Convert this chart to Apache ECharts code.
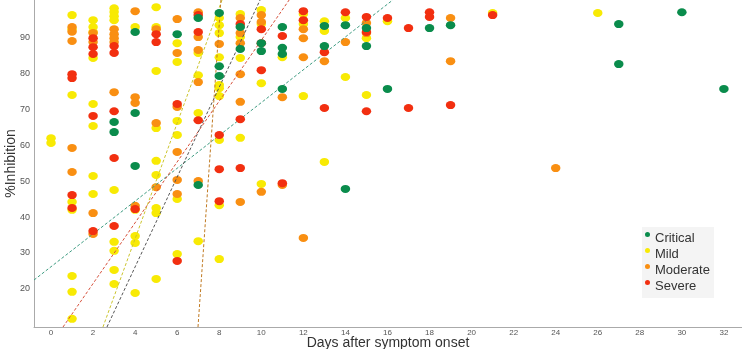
<!DOCTYPE html>
<html>
<head>
<meta charset="utf-8">
<script src="https://cdn.jsdelivr.net/npm/echarts@6/dist/echarts.min.js"></script>
<style>
  html, body { margin: 0; padding: 0; background: #fff; }
  #chart { width: 742px; height: 349px; }
</style>
</head>
<body>
<div id="chart"></div>
<script>
// [day, %inhibition]
var critical = [
  [3, 66.4], [3, 63.6], [4, 91.4], [4, 68.9], [4, 54.2], [6, 90.8], [7, 95.3], [7, 48.9],
  [8, 96.7], [8, 81.9], [8, 79.2], [9, 92.8], [9, 86.7], [10, 88.3], [10, 86.1],
  [11, 92.8], [11, 87.0], [11, 85.3], [11, 75.6], [13, 93.1], [13, 87.5], [14, 93.3], [14, 47.8],
  [15, 92.5], [15, 87.5], [16, 75.6], [18, 92.5], [19, 93.3], [27, 93.6], [27, 82.5], [30, 96.9], [32, 75.6]
];
var mild = [
  [0, 61.9], [0, 60.6],
  [1, 96.1], [1, 92.2], [1, 73.9], [1, 44.2], [1, 42.0], [1, 23.6], [1, 19.2], [1, 11.7],
  [2, 94.7], [2, 92.8], [2, 91.4], [2, 84.2], [2, 71.4], [2, 65.3], [2, 51.4], [2, 46.4],
  [3, 98.0], [3, 97.0], [3, 95.8], [3, 94.7], [3, 47.5], [3, 33.1], [3, 30.6], [3, 25.3], [3, 21.4],
  [4, 92.8], [4, 42.0], [4, 34.7], [4, 32.8], [4, 18.9],
  [5, 98.3], [5, 92.8], [5, 80.6], [5, 64.7], [5, 55.6], [5, 51.7], [5, 42.5], [5, 41.1], [5, 22.8],
  [6, 88.3], [6, 83.1], [6, 66.7], [6, 62.8], [6, 45.0], [6, 29.7],
  [7, 85.6], [7, 79.4], [7, 68.9], [7, 33.3],
  [8, 95.3], [8, 93.3], [8, 91.1], [8, 84.4], [8, 76.7], [8, 75.8], [8, 73.6], [8, 61.4], [8, 43.3], [8, 28.3],
  [9, 96.4], [9, 90.0], [9, 84.2], [9, 62.0],
  [10, 97.5], [10, 93.6], [10, 77.2], [10, 49.2],
  [11, 84.4], [12, 96.4], [12, 93.6], [12, 73.6], [13, 94.4], [13, 91.7], [13, 55.3],
  [14, 95.3], [14, 78.9], [15, 89.7], [15, 73.9], [16, 94.4], [21, 96.7], [26, 96.7]
];
var moderate = [
  [1, 92.8], [1, 91.5], [1, 88.9], [1, 59.2], [1, 52.5],
  [2, 91.1], [2, 88.6], [2, 41.1], [2, 35.3],
  [3, 92.2], [3, 90.8], [3, 89.7], [3, 88.6], [3, 74.7],
  [4, 97.2], [4, 73.3], [4, 71.7], [4, 43.1],
  [5, 92.2], [5, 66.1], [5, 48.3],
  [6, 95.0], [6, 85.6], [6, 70.6], [6, 58.1], [6, 50.3], [6, 46.4],
  [7, 96.9], [7, 90.0], [7, 86.4], [7, 77.5], [7, 50.0],
  [8, 88.1],
  [9, 95.3], [9, 91.1], [9, 88.3], [9, 79.7], [9, 72.0], [9, 44.2],
  [10, 96.1], [10, 94.2], [10, 47.0],
  [11, 73.3], [11, 48.9],
  [12, 92.2], [12, 89.7], [12, 84.4], [12, 34.2],
  [13, 83.3], [14, 88.6], [15, 93.9], [15, 91.1], [19, 95.3], [19, 83.3], [24, 53.6]
];
var severe = [
  [1, 79.7], [1, 78.6], [1, 46.1], [1, 42.5],
  [2, 89.7], [2, 87.2], [2, 85.3], [2, 68.1], [2, 36.1],
  [3, 87.5], [3, 85.6], [3, 69.4], [3, 56.4], [3, 37.5],
  [4, 42.2], [5, 90.8], [5, 88.6], [6, 71.4], [6, 27.8],
  [7, 96.1], [7, 91.4], [7, 66.9],
  [8, 62.8], [8, 53.3], [8, 44.4],
  [9, 93.6], [9, 67.2], [9, 53.6],
  [10, 92.2], [10, 88.3], [10, 80.8],
  [11, 90.3], [11, 49.4], [12, 97.2], [12, 94.7], [13, 85.8], [13, 70.3],
  [14, 96.9], [15, 95.6], [15, 91.4], [15, 69.4], [16, 95.3], [17, 92.5], [17, 70.3],
  [18, 96.9], [18, 95.6], [19, 71.1], [21, 96.1]
];

// fitted trend lines: [intercept, slope]
var fitCritical = [26.19, 4.56];
var fitSevere = [4.62, 8.45];
var fitMild = [-30.2, 16.05];
var fitAll = [-23.76, 12.48];
var fitModerate = [-573.5, 83.4];

var xTicks = [0, 2, 4, 6, 8, 10, 12, 14, 16, 18, 20, 22, 24, 26, 28, 30, 32];
var yTicks = [20, 30, 40, 50, 60, 70, 80, 90];

var xMin = -0.81, xMax = 32.86, yMin = 9.44, yMax = 100.3;

var chart = echarts.init(document.getElementById('chart'));

function fitLine(fit) {
    // ends of the line where it meets the plot box
    var a = fit[0], b = fit[1];
    var x1 = Math.max(xMin, (yMin - a) / b);
    var x2 = Math.min(xMax, (yMax - a) / b);
    return [[x1, a + b * x1], [x2, a + b * x2]];
}

function dots(name, color, data, z) {
    return {
        name: name,
        type: 'scatter',
        data: data,
        symbol: 'circle',
        symbolSize: [9.5, 8],
        itemStyle: { color: color, opacity: 1 },
        z: z
    };
}

function trend(color, fit) {
    return {
        type: 'line',
        data: fitLine(fit),
        symbol: 'none',
        silent: true,
        lineStyle: { color: color, width: 1, type: [3, 2] },
        z: 5
    };
}

var font = 'Liberation Sans';
// little dot sitting high beside the legend text
var legendDot = 'path://M2.5,0A2.5,2.5,0,1,1,2.5,5A2.5,2.5,0,1,1,2.5,0ZM2.5,13L2.5,13Z';

chart.setOption({
    animation: false,
    textStyle: { fontFamily: font },
    grid: { left: 34, right: 0, top: 0, bottom: 22, outerBoundsMode: 'none' },
    legend: {
        data: ['Critical', 'Mild', 'Moderate', 'Severe'],
        orient: 'vertical',
        left: 642,
        top: 227,
        icon: legendDot,
        itemWidth: 5,
        itemHeight: 13,
        itemGap: 3,
        padding: [5, 4, 5, 3],
        backgroundColor: '#f4f4f4',
        textStyle: { fontSize: 13, color: '#333', fontFamily: font }
    },
    xAxis: {
        type: 'value',
        min: xMin,
        max: xMax,
        name: 'Days after symptom onset',
        nameLocation: 'middle',
        nameGap: 9,
        nameMoveOverlap: false,
        nameTextStyle: { fontSize: 14, color: '#333' },
        splitLine: { show: false },
        axisTick: { show: false },
        axisLine: { show: true, onZero: false, lineStyle: { color: '#aaa' } },
        axisLabel: { customValues: xTicks, fontSize: 8, color: '#555', margin: 2 }
    },
    yAxis: {
        type: 'value',
        min: yMin,
        max: yMax,
        name: '%Inhibition',
        nameLocation: 'middle',
        nameGap: 16,
        nameMoveOverlap: false,
        nameTextStyle: { fontSize: 14, color: '#333' },
        splitLine: { show: false },
        axisTick: { show: false },
        axisLine: { show: true, onZero: false, lineStyle: { color: '#aaa' } },
        axisLabel: { customValues: yTicks, fontSize: 9, color: '#555', margin: 4 }
    },
    series: [
        dots('Critical', '#0a8c4c', critical, 6),
        dots('Mild', '#f8ea04', mild, 3),
        dots('Moderate', '#f98f12', moderate, 4),
        dots('Severe', '#f22f10', severe, 5),
        trend('#3f9c82', fitCritical),
        trend('#d6523d', fitSevere),
        trend('#cbc42c', fitMild),
        trend('#555555', fitAll),
        trend('#c07a22', fitModerate)
    ]
});
</script>
</body>
</html>
